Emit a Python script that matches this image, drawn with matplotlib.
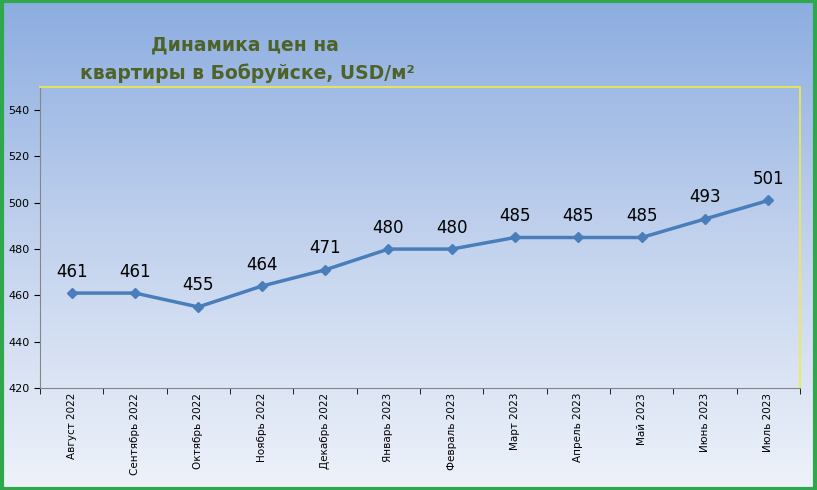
import numpy as np
import matplotlib.pyplot as plt
from matplotlib.colors import LinearSegmentedColormap

months = ["Август 2022", "Сентябрь 2022", "Октябрь 2022", "Ноябрь 2022", "Декабрь 2022",
          "Январь 2023", "Февраль 2023", "Март 2023", "Апрель 2023", "Май 2023",
          "Июнь 2023", "Июль 2023"]
prices = [461, 461, 455, 464, 471, 480, 480, 485, 485, 485, 493, 501]
yticks = [420, 440, 460, 480, 500, 520, 540]

W, H = 817, 490
fig = plt.figure(figsize=(W/100, H/100), dpi=100)

bg = fig.add_axes([0, 0, 1, 1], zorder=0)
cmap = LinearSegmentedColormap.from_list("g", ["#8cade0", "#c3d3ee", "#eef2fa"])
grad = np.linspace(0, 1, 256).reshape(-1, 1)
bg.imshow(grad, aspect="auto", cmap=cmap, extent=[0, 1, 0, 1], origin="upper")
bg.set_xlim(0, 1); bg.set_ylim(0, 1)
bg.axis("off")
bg.add_patch(plt.Rectangle((0.002, 0.003), 0.996, 0.994, fill=False,
                           edgecolor="#2ea84a", linewidth=3, transform=bg.transAxes))

ax = fig.add_axes([40/W, 1-388/H, 760/W, 301/H], zorder=1)
ax.patch.set_alpha(0)
x = np.arange(len(months))
ax.plot(x, prices, color="#4a7ebb", linewidth=2.5, marker="D", markersize=5)
for xi, p in zip(x, prices):
    ax.annotate(str(p), (xi, p), xytext=(0, 9), textcoords="offset points",
                ha="center", va="bottom", fontsize=12, color="black")
ax.set_xlim(-0.5, len(months)-0.5)
ax.set_ylim(420, 550)
ax.set_yticks(yticks)
ax.set_yticklabels([str(v) for v in yticks], fontsize=8)
ax.set_xticks(x)
ax.set_xticklabels(months, rotation=90, fontsize=7.5)
ax.set_xticks(np.arange(len(months)+1)-0.5, minor=True)
ax.tick_params(axis="x", which="major", length=0)
ax.tick_params(axis="x", which="minor", length=4)
ax.tick_params(axis="y", length=4)
for s in ["left", "bottom"]:
    ax.spines[s].set_color("#868686")
for s in ["top", "right"]:
    ax.spines[s].set_color("#eeee40")
    ax.spines[s].set_linewidth(1.2)

fig.text(245/W, 1-45/H, "Динамика цен на", ha="center", va="center",
         fontsize=13.5, fontweight="bold", color="#4f6228")
fig.text(247/W, 1-73/H, "квартиры в Бобруйске, USD/м²", ha="center", va="center",
         fontsize=13.5, fontweight="bold", color="#4f6228")

fig.savefig("out.png", dpi=100)
